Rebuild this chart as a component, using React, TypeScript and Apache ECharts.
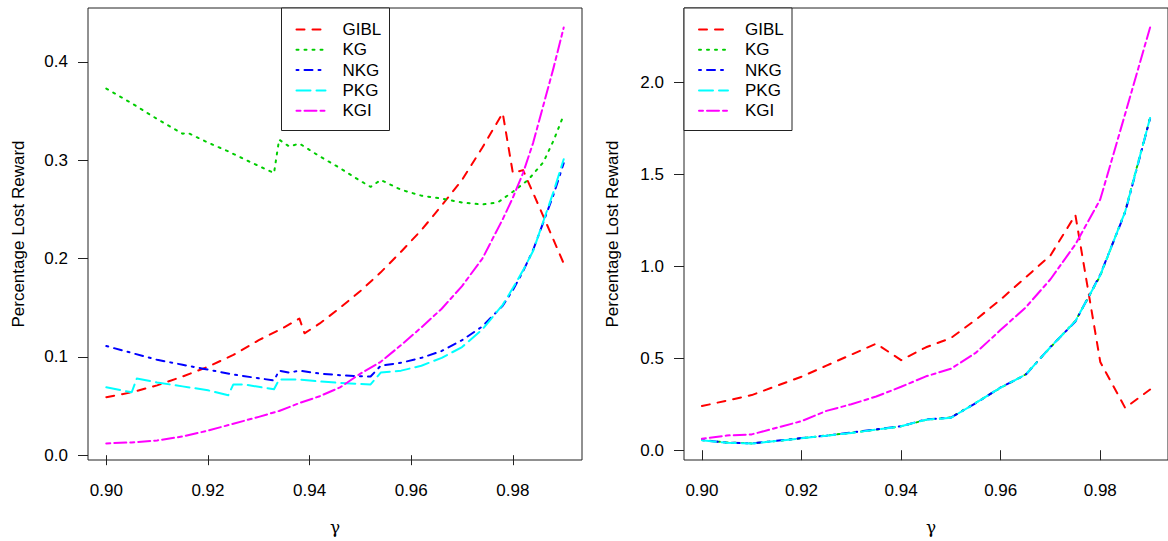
import React, { useEffect, useRef } from "react";
import * as echarts from "echarts";

// ---------- data (left panel) ----------
const gibL: number[][] = [[0.900,0.059],[0.905,0.064],[0.910,0.071],[0.915,0.080],[0.920,0.090],[0.925,0.102],[0.930,0.117],[0.935,0.130],[0.938,0.139],[0.939,0.124],[0.942,0.134],[0.946,0.150],[0.950,0.167],[0.954,0.186],[0.958,0.207],[0.962,0.229],[0.966,0.254],[0.970,0.280],[0.974,0.313],[0.978,0.348],[0.980,0.287],[0.982,0.290],[0.986,0.243],[0.990,0.195]];
const kgL: number[][] = [[0.900,0.373],[0.905,0.358],[0.910,0.342],[0.915,0.327],[0.916,0.328],[0.920,0.318],[0.924,0.309],[0.928,0.299],[0.933,0.287],[0.934,0.321],[0.936,0.314],[0.938,0.317],[0.942,0.304],[0.946,0.292],[0.950,0.279],[0.952,0.273],[0.954,0.280],[0.958,0.270],[0.962,0.264],[0.966,0.261],[0.970,0.257],[0.974,0.255],[0.977,0.257],[0.980,0.268],[0.983,0.280],[0.986,0.298],[0.988,0.320],[0.990,0.346]];
const nkgL: number[][] = [[0.900,0.111],[0.905,0.104],[0.910,0.097],[0.915,0.092],[0.919,0.088],[0.925,0.082],[0.929,0.079],[0.933,0.076],[0.934,0.086],[0.936,0.084],[0.938,0.086],[0.942,0.083],[0.947,0.081],[0.952,0.080],[0.954,0.091],[0.958,0.094],[0.962,0.099],[0.966,0.106],[0.970,0.117],[0.974,0.131],[0.978,0.152],[0.980,0.168],[0.982,0.187],[0.984,0.209],[0.986,0.237],[0.988,0.265],[0.990,0.297]];
const pkgL: number[][] = [[0.900,0.069],[0.905,0.064],[0.906,0.078],[0.910,0.074],[0.915,0.070],[0.920,0.066],[0.924,0.061],[0.925,0.072],[0.927,0.072],[0.933,0.067],[0.934,0.077],[0.936,0.077],[0.938,0.077],[0.942,0.075],[0.946,0.0735],[0.952,0.072],[0.954,0.084],[0.958,0.086],[0.962,0.091],[0.966,0.099],[0.970,0.110],[0.974,0.128],[0.978,0.153],[0.980,0.170],[0.982,0.188],[0.984,0.208],[0.986,0.238],[0.988,0.268],[0.990,0.301]];
const kgiL: number[][] = [[0.900,0.012],[0.905,0.013],[0.910,0.015],[0.915,0.019],[0.920,0.025],[0.925,0.032],[0.930,0.039],[0.934,0.045],[0.938,0.053],[0.942,0.060],[0.946,0.069],[0.950,0.083],[0.954,0.095],[0.958,0.112],[0.962,0.130],[0.966,0.149],[0.970,0.172],[0.974,0.200],[0.978,0.240],[0.980,0.262],[0.982,0.287],[0.984,0.318],[0.986,0.356],[0.988,0.394],[0.990,0.435]];

// ---------- data (right panel) ----------
const gammaR = [0.900,0.905,0.910,0.915,0.920,0.925,0.930,0.935,0.940,0.945,0.950,0.955,0.960,0.965,0.970,0.975,0.980,0.985,0.990];
const gibR = [0.24,0.27,0.30,0.35,0.40,0.46,0.52,0.58,0.49,0.56,0.61,0.71,0.82,0.94,1.06,1.28,0.48,0.23,0.33];
const kgR = [0.055,0.042,0.037,0.050,0.065,0.080,0.095,0.112,0.130,0.165,0.178,0.258,0.340,0.412,0.560,0.703,0.950,1.300,1.810];
const nkgR = [0.055,0.041,0.037,0.051,0.066,0.079,0.096,0.113,0.131,0.167,0.177,0.256,0.342,0.410,0.562,0.700,0.955,1.295,1.805];
const pkgR = [0.054,0.040,0.036,0.050,0.065,0.079,0.094,0.112,0.130,0.166,0.176,0.257,0.341,0.411,0.561,0.702,0.952,1.298,1.808];
const kgiR = [0.062,0.080,0.086,0.122,0.158,0.214,0.250,0.292,0.345,0.402,0.443,0.530,0.655,0.776,0.930,1.120,1.365,1.830,2.300];

const xTicks = [0.90, 0.92, 0.94, 0.96, 0.98];
const yTicksL = [0.0, 0.1, 0.2, 0.3, 0.4];
const yTicksR = [0.0, 0.5, 1.0, 1.5, 2.0];

const names = ["GIBL", "KG", "NKG", "PKG", "KGI"];
const colors = ["#FF0000", "#00CD00", "#0000FF", "#00FFFF", "#FF00FF"];
const dashes = [[8, 8], [2, 6], [2, 6, 8, 6], [14, 6], [4, 4, 12, 4]];

const FONT = '"Liberation Sans", Arial, Helvetica, sans-serif';
const BOX = "#222";

function zipR(ys: number[]) {
  return gammaR.map((g, i) => [g, ys[i]]);
}

export default function App() {
  const ref = useRef<HTMLDivElement>(null);
  useEffect(() => {
    if (!ref.current) return;
    const chart = echarts.init(ref.current, null, { renderer: "svg" });
    const leftData = [gibL, kgL, nkgL, pkgL, kgiL];
    const rightData = [gibR, kgR, nkgR, pkgR, kgiR].map(zipR);

    const mkX = (gi: number) => ({
      type: "value",
      gridIndex: gi,
      min: 0.8964,
      max: 0.9936,
      axisLine: { show: false },
      splitLine: { show: false },
      axisTick: { show: true, inside: false, length: 10, lineStyle: { color: BOX, width: 1 }, customValues: xTicks },
      axisLabel: {
        customValues: xTicks,
        formatter: (v: number) => v.toFixed(2),
        margin: 22,
        color: "#000",
        fontSize: 17,
        fontFamily: FONT,
      },
    });
    const mkY = (gi: number, min: number, max: number, ticks: number[]) => ({
      type: "value",
      gridIndex: gi,
      min,
      max,
      axisLine: { show: false },
      splitLine: { show: false },
      axisTick: { show: true, inside: false, length: 10, lineStyle: { color: BOX, width: 1 }, customValues: ticks },
      axisLabel: {
        customValues: ticks,
        formatter: (v: number) => v.toFixed(1),
        margin: 20,
        color: "#000",
        fontSize: 17,
        fontFamily: FONT,
      },
    });

    const series: any[] = [];
    [leftData, rightData].forEach((set, gi) => {
      set.forEach((d, i) => {
        series.push({
          type: "line",
          name: names[i] + (gi ? " (R)" : ""),
          xAxisIndex: gi,
          yAxisIndex: gi,
          data: d,
          symbol: "none",
          showSymbol: false,
          silent: true,
          lineStyle: { color: colors[i], width: 2, type: dashes[i], cap: "round", join: "round" },
        });
      });
    });

    const legendEls = (bx: number) => {
      const els: any[] = [
        {
          type: "rect",
          z: 100,
          shape: { x: bx, y: 8, width: 108, height: 122.5 },
          style: { fill: "#fff", stroke: BOX, lineWidth: 1 },
        },
      ];
      names.forEach((n, i) => {
        const y = 29.5 + i * 20.3;
        els.push({
          type: "line",
          z: 101,
          shape: { x1: bx + 15, y1: y, x2: bx + 44, y2: y },
          style: { stroke: colors[i], lineWidth: 2, lineDash: dashes[i], lineCap: "round" },
        });
        els.push({
          type: "text",
          z: 101,
          x: bx + 61,
          y: y,
          style: { text: n, fontSize: 17, fontFamily: FONT, fill: "#000", align: "left", verticalAlign: "middle" },
        });
      });
      return els;
    };

    const titles = (cx: number, tx: number) => [
      {
        type: "text",
        z: 100,
        x: cx,
        y: 527,
        style: { text: "γ", fontSize: 17, fontFamily: '"DejaVu Serif", "Liberation Serif", serif', fill: "#000", align: "center", verticalAlign: "middle" },
      },
      {
        type: "text",
        z: 100,
        x: tx,
        y: 234,
        rotation: Math.PI / 2,
        style: { text: "Percentage Lost Reward", fontSize: 17, fontFamily: FONT, fill: "#000", align: "center", verticalAlign: "middle" },
      },
    ];

    chart.setOption({
      animation: false,
      backgroundColor: "#fff",
      grid: [
        { left: 88, top: 8, width: 494, height: 452, show: true, borderColor: BOX, borderWidth: 1, backgroundColor: "transparent" },
        { left: 684, top: 8, width: 494, height: 452, show: true, borderColor: BOX, borderWidth: 1, backgroundColor: "transparent" },
      ],
      xAxis: [mkX(0), mkX(1)],
      yAxis: [mkY(0, -0.0049, 0.4549, yTicksL), mkY(1, -0.0533, 2.406, yTicksR)],
      series,
      graphic: [...legendEls(281.5), ...legendEls(684), ...titles(335, 18), ...titles(931, 612.5)],
    });
    return () => chart.dispose();
  }, []);
  return (
    <div
      ref={ref}
      style={{ position: "fixed", left: 0, top: 0, width: 1168, height: 541, background: "#fff" }}
    />
  );
}
